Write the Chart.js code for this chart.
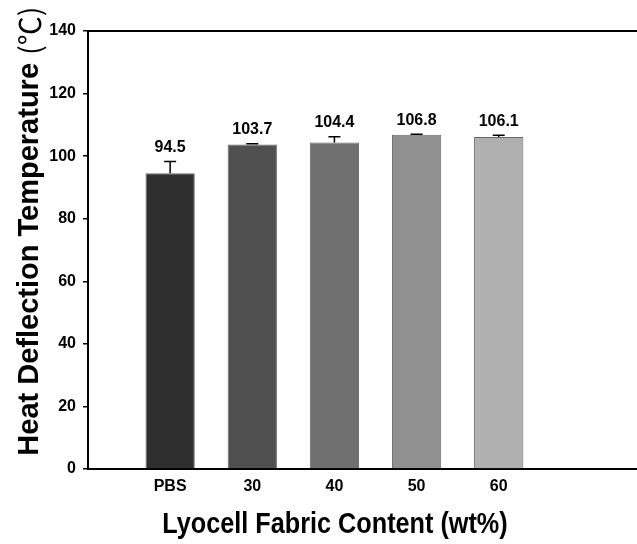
<!DOCTYPE html>
<html>
<head>
<meta charset="utf-8">
<script src="https://cdn.jsdelivr.net/npm/chart.js@4"></script>
<style>
    body { margin: 0; overflow: hidden; background: #fff; }
    #wrap { position: absolute; left: 0; top: 0; width: 671px; height: 544px; }
</style>
</head>
<body>
<div id="wrap"><canvas id="hdtChart"></canvas></div>
<script>
// heat deflection temperature per lyocell fabric content
const categories = ["PBS", "30", "40", "50", "60"];
const hdtValues = [94.5, 103.7, 104.4, 106.8, 106.1];
const hdtErrors = [3.8, 0.3, 1.8, 0.2, 0.6];
const barColors = ["#2f2f2f", "#505050", "#707070", "#909090", "#b0b0b0"];
const yTicks = [0, 20, 40, 60, 80, 100, 120, 140];

// one empty slot on the left, two on the right (plot runs off the picture)
const labels = ["", ...categories, "", ""];
const values = [null, ...hdtValues, null, null];
const errors = [null, ...hdtErrors, null, null];
const colors = ["#fff", ...barColors, "#fff", "#fff"];

const boldFont = "Liberation Sans, Arial, sans-serif";

const extras = {
    id: "extras",
    afterDatasetsDraw(chart) {
        const ctx = chart.ctx;
        const x = chart.scales.x;
        const y = chart.scales.y;
        const area = chart.chartArea;

        // top frame line
        ctx.save();
        ctx.strokeStyle = "#000";
        ctx.lineWidth = 2;
        ctx.beginPath();
        ctx.moveTo(area.left - 1, area.top);
        ctx.lineTo(area.right, area.top);
        ctx.stroke();

        // error bars (upper only) and value labels
        ctx.lineWidth = 1.5;
        ctx.fillStyle = "#000";
        ctx.font = "bold 16px " + boldFont;
        ctx.textAlign = "center";
        ctx.textBaseline = "bottom";
        values.forEach((v, i) => {
            if (v === null) return;
            const px = x.getPixelForValue(i);
            const top = y.getPixelForValue(v + errors[i]);
            ctx.beginPath();
            ctx.moveTo(px, y.getPixelForValue(v));
            ctx.lineTo(px, top);
            ctx.moveTo(px - 6, top);
            ctx.lineTo(px + 6, top);
            ctx.stroke();
            ctx.fillText(v.toFixed(1), px, top - 6);
        });
        ctx.restore();

        // x axis title (condensed bold)
        ctx.save();
        ctx.fillStyle = "#000";
        ctx.textAlign = "center";
        ctx.textBaseline = "middle";
        ctx.font = "bold 29px " + boldFont;
        ctx.translate(335, 525);
        ctx.scale(0.87, 1);
        ctx.fillText("Lyocell Fabric Content (wt%)", 0, 0);
        ctx.restore();

        // y axis title
        ctx.save();
        ctx.fillStyle = "#000";
        ctx.textBaseline = "middle";
        const main = "Heat Deflection Temperature ";
        const unit = "(℃)";
        ctx.translate(30, 231);
        ctx.rotate(-Math.PI / 2);
        ctx.font = "bold 29px " + boldFont;
        const w1 = ctx.measureText(main).width;
        ctx.font = "29px 'Noto Sans CJK SC', sans-serif";
        const w2 = ctx.measureText(unit).width;
        const start = -(w1 + w2) / 2;
        ctx.textAlign = "left";
        ctx.font = "bold 29px " + boldFont;
        ctx.fillText(main, start, 0);
        ctx.font = "29px 'Noto Sans CJK SC', sans-serif";
        ctx.fillText(unit, start + w1, 0);
        ctx.restore();
    }
};

new Chart(document.getElementById("hdtChart"), {
    type: "bar",
    data: {
        labels: labels,
        datasets: [{
            data: values,
            backgroundColor: colors,
            borderColor: "rgba(0,0,0,0.6)",
            borderWidth: 1,
            barPercentage: 0.6,
            categoryPercentage: 1
        }]
    },
    options: {
        responsive: true,
        maintainAspectRatio: false,
        animation: false,
        layout: { padding: { top: 31, right: 0, bottom: 0, left: 0 } },
        plugins: {
            legend: { display: false },
            tooltip: { enabled: false }
        },
        scales: {
            x: {
                offset: false,
                grid: { display: false, drawTicks: false },
                border: { display: true, color: "#000", width: 2 },
                ticks: {
                    color: "#000",
                    padding: 8,
                    autoSkip: false,
                    maxRotation: 0,
                    font: { family: boldFont, size: 16, weight: "bold" }
                },
                afterFit: s => { s.height = 75; }
            },
            y: {
                min: 0,
                max: 140,
                afterBuildTicks: s => { s.ticks = yTicks.map(v => ({ value: v })); },
                grid: { drawOnChartArea: false, drawTicks: true, tickLength: 5, color: "#000", lineWidth: 1.5 },
                border: { display: true, color: "#000", width: 2 },
                ticks: {
                    color: "#000",
                    padding: 7,
                    font: { family: boldFont, size: 16, weight: "bold" }
                },
                afterFit: s => { s.width = 88; }
            }
        }
    },
    plugins: [extras]
});
</script>
</body>
</html>
